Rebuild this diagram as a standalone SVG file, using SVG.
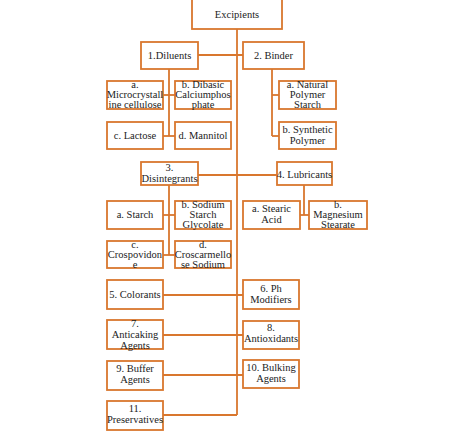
<svg xmlns="http://www.w3.org/2000/svg" width="474" height="431" viewBox="0 0 474 431">
<style>
rect{fill:#fff;stroke:#D9772E;stroke-width:1.8}
.c line{stroke:#D9772E;stroke-width:1.8}
text{font-family:"Liberation Serif","Times New Roman",serif;font-size:10.5px;fill:#222;text-anchor:middle}
</style>
<rect x="0" y="0" width="474" height="431" style="fill:#fff;stroke:none"/>
<g class="c" id="connectors">
<line x1="237" y1="29" x2="237" y2="415"/>
<line x1="198" y1="55" x2="243" y2="55"/>
<line x1="169" y1="69" x2="169" y2="136"/>
<line x1="163" y1="95" x2="175" y2="95"/>
<line x1="163" y1="136" x2="175" y2="136"/>
<line x1="272" y1="69" x2="272" y2="136"/>
<line x1="272" y1="95" x2="279" y2="95"/>
<line x1="272" y1="136" x2="279" y2="136"/>
<line x1="198" y1="175" x2="277" y2="175"/>
<line x1="169" y1="185" x2="169" y2="255"/>
<line x1="163" y1="215" x2="175" y2="215"/>
<line x1="163" y1="255" x2="175" y2="255"/>
<line x1="304" y1="185" x2="304" y2="215"/>
<line x1="300" y1="215" x2="309" y2="215"/>
<line x1="163" y1="295" x2="243" y2="295"/>
<line x1="163" y1="335" x2="243" y2="335"/>
<line x1="163" y1="375" x2="243" y2="375"/>
<line x1="163" y1="415" x2="237" y2="415"/>
</g>
<g id="excipients"><rect x="192" y="-1" width="90" height="30"/><text x="237" y="18">Excipients</text></g>
<g id="diluents"><rect x="141" y="42" width="57" height="27"/><text x="169.5" y="59">1.Diluents</text></g>
<g id="binder"><rect x="243" y="42" width="61" height="27"/><text x="273.5" y="59">2. Binder</text></g>
<g id="mcc"><rect x="107" y="81" width="56" height="28"/><text x="135" y="88">a.</text><text x="135" y="98">Microcrystall</text><text x="135" y="108">ine cellulose</text></g>
<g id="dibasic"><rect x="175" y="81" width="56" height="28"/><text x="203" y="88">b. Dibasic</text><text x="203" y="98">Calciumphos</text><text x="203" y="108">phate</text></g>
<g id="lactose"><rect x="107" y="122" width="56" height="27"/><text x="135" y="139">c. Lactose</text></g>
<g id="mannitol"><rect x="175" y="122" width="56" height="27"/><text x="203" y="139">d. Mannitol</text></g>
<g id="natural"><rect x="279" y="81" width="57" height="28"/><text x="307.5" y="88">a. Natural</text><text x="307.5" y="98">Polymer</text><text x="307.5" y="108">Starch</text></g>
<g id="synthetic"><rect x="279" y="122" width="57" height="27"/><text x="307.5" y="133">b. Synthetic</text><text x="307.5" y="144">Polymer</text></g>
<g id="disintegrants"><rect x="141" y="162" width="57" height="23"/><text x="169.5" y="171">3.</text><text x="169.5" y="182">Disintegrants</text></g>
<g id="lubricants"><rect x="277" y="162" width="55" height="23"/><text x="304.5" y="178">4. Lubricants</text></g>
<g id="starch"><rect x="107" y="201" width="56" height="28"/><text x="135" y="218">a. Starch</text></g>
<g id="ssg"><rect x="175" y="201" width="56" height="28"/><text x="203" y="208">b. Sodium</text><text x="203" y="218">Starch</text><text x="203" y="228">Glycolate</text></g>
<g id="crospovidone"><rect x="107" y="241" width="56" height="27"/><text x="135" y="248">c.</text><text x="135" y="258">Crospovidon</text><text x="135" y="268">e</text></g>
<g id="croscarmellose"><rect x="175" y="241" width="56" height="27"/><text x="203" y="248">d.</text><text x="203" y="258">Croscarmello</text><text x="203" y="268">se Sodium</text></g>
<g id="stearic"><rect x="243" y="201" width="57" height="28"/><text x="271.5" y="212">a. Stearic</text><text x="271.5" y="223">Acid</text></g>
<g id="magnesium"><rect x="309" y="201" width="58" height="28"/><text x="338" y="208">b.</text><text x="338" y="218">Magnesium</text><text x="338" y="228">Stearate</text></g>
<g id="colorants"><rect x="107" y="280" width="56" height="29"/><text x="135" y="298">5. Colorants</text></g>
<g id="ph"><rect x="243" y="280" width="56" height="29"/><text x="271" y="292">6. Ph</text><text x="271" y="303">Modifiers</text></g>
<g id="anticaking"><rect x="107" y="320" width="56" height="29"/><text x="135" y="327">7.</text><text x="135" y="338">Anticaking</text><text x="135" y="349">Agents</text></g>
<g id="antioxidants"><rect x="243" y="321" width="56" height="28"/><text x="271" y="331">8.</text><text x="271" y="342">Antioxidants</text></g>
<g id="buffer"><rect x="107" y="361" width="56" height="29"/><text x="135" y="372">9. Buffer</text><text x="135" y="383">Agents</text></g>
<g id="bulking"><rect x="243" y="360" width="56" height="28"/><text x="271" y="371">10. Bulking</text><text x="271" y="382">Agents</text></g>
<g id="preservatives"><rect x="107" y="401" width="56" height="29"/><text x="135" y="412">11.</text><text x="135" y="423">Preservatives</text></g>
</svg>
